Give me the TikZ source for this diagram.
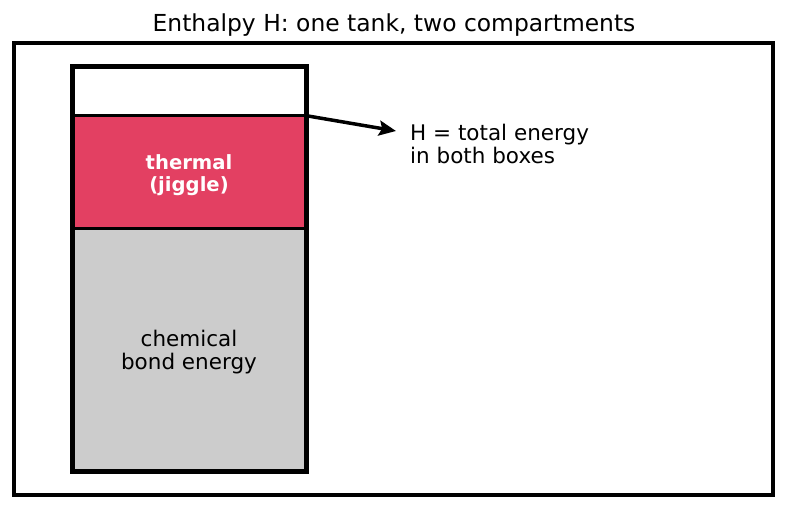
\documentclass[tikz,border=0pt]{standalone}
\usepackage{fontspec}
\setmainfont{DejaVu Sans}
\usetikzlibrary{arrows.meta}
\definecolor{thermred}{HTML}{E34062}
\definecolor{chemgray}{HTML}{CCCCCC}
\tikzset{
  frame/.style={draw=black,line width=3.5pt},
  tankline/.style={draw=black,line width=5pt},
  divline/.style={draw=black,line width=3pt},
  lbl/.style={font=\fontsize{21.5}{23}\selectfont,align=center,text=black,inner sep=0pt},
  boldlbl/.style={font=\fontsize{19.6}{22}\selectfont\bfseries,align=center,text=white,inner sep=0pt},
  ttl/.style={font=\fontsize{23.4}{26}\selectfont,inner sep=0pt},
  arr/.style={-{Stealth[length=17pt,width=15pt,inset=3pt]},line width=3.5pt}
}
\begin{document}
\begin{tikzpicture}[x=1pt,y=-1pt]
\useasboundingbox (0,0) rectangle (787,510);
\fill[white] (0,0) rectangle (787,510);
\node[ttl] (title) at (394,25) {Enthalpy H: one tank, two compartments};
\draw[frame] (14,43) rectangle (773,495);
\fill[chemgray] (72,229) rectangle (306,471);
\fill[thermred] (72,116) rectangle (306,229);
\draw[divline] (72,116) -- (306,116);
\draw[divline] (72,229) -- (306,229);
\draw[tankline] (72,67) rectangle (306,471);
\node[boldlbl] (therm) at (189,175) {thermal\\(jiggle)};
\node[lbl] (chem) at (189,352) {chemical\\bond energy};
\coordinate (src) at (308,116);
\node[lbl,align=left,anchor=west] (htext) at (410,144) {H = total energy\\in both boxes};
\coordinate (tip) at (396,131);
\draw[arr] (src) -- (tip);
\end{tikzpicture}
\end{document}
